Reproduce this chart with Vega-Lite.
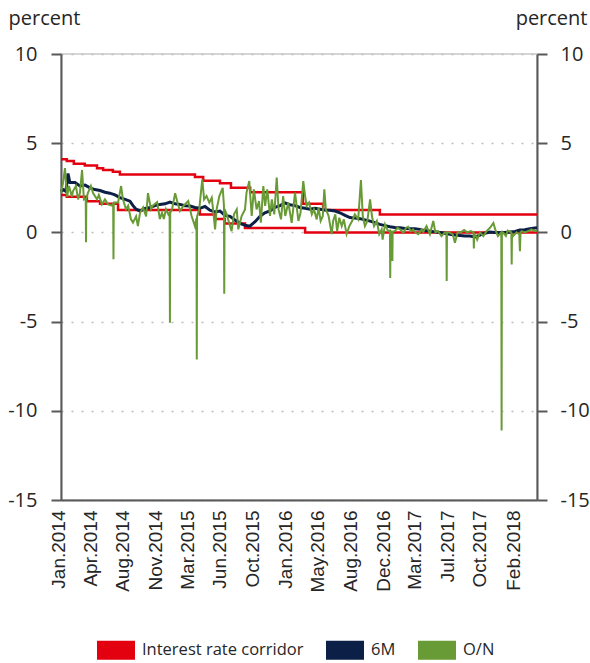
{
  "$schema": "https://vega.github.io/schema/vega-lite/v6.json",
  "width": 476,
  "height": 446,
  "autosize": {"type": "none"},
  "padding": {"left": 61, "top": 54, "right": 53, "bottom": 163},
  "config": {"view": {"stroke": "#c8c8c8", "strokeWidth": 1.5}, "font": "Open Sans"},
  "datasets": {
    "corridor": [
      {"date": "2014-01-01", "rate": 4.1, "bound": "upper"},
      {"date": "2014-01-20", "rate": 4.0, "bound": "upper"},
      {"date": "2014-02-12", "rate": 3.85, "bound": "upper"},
      {"date": "2014-03-20", "rate": 3.75, "bound": "upper"},
      {"date": "2014-04-29", "rate": 3.6, "bound": "upper"},
      {"date": "2014-05-19", "rate": 3.5, "bound": "upper"},
      {"date": "2014-06-20", "rate": 3.4, "bound": "upper"},
      {"date": "2014-07-13", "rate": 3.25, "bound": "upper"},
      {"date": "2015-03-16", "rate": 3.1, "bound": "upper"},
      {"date": "2015-04-12", "rate": 2.9, "bound": "upper"},
      {"date": "2015-06-06", "rate": 2.75, "bound": "upper"},
      {"date": "2015-07-12", "rate": 2.5, "bound": "upper"},
      {"date": "2015-09-13", "rate": 2.25, "bound": "upper"},
      {"date": "2016-03-04", "rate": 1.6, "bound": "upper"},
      {"date": "2016-05-09", "rate": 1.25, "bound": "upper"},
      {"date": "2016-11-11", "rate": 1.0, "bound": "upper"},
      {"date": "2018-04-10", "rate": 1.0, "bound": "upper"},
      {"date": "2014-01-01", "rate": 2.1, "bound": "lower"},
      {"date": "2014-01-20", "rate": 2.0, "bound": "lower"},
      {"date": "2014-03-27", "rate": 1.75, "bound": "lower"},
      {"date": "2014-05-09", "rate": 1.6, "bound": "lower"},
      {"date": "2014-07-07", "rate": 1.25, "bound": "lower"},
      {"date": "2015-04-01", "rate": 1.0, "bound": "lower"},
      {"date": "2015-05-21", "rate": 0.75, "bound": "lower"},
      {"date": "2015-06-22", "rate": 0.5, "bound": "lower"},
      {"date": "2015-08-27", "rate": 0.25, "bound": "lower"},
      {"date": "2016-03-11", "rate": 0.0, "bound": "lower"},
      {"date": "2018-04-10", "rate": 0.0, "bound": "lower"}
    ],
    "m6": [
      {"date": "2014-01-01", "rate": 2.3}, {"date": "2014-01-08", "rate": 2.4}, {"date": "2014-01-17", "rate": 2.3},
      {"date": "2014-01-24", "rate": 3.3}, {"date": "2014-01-30", "rate": 2.8}, {"date": "2014-02-16", "rate": 2.8},
      {"date": "2014-03-04", "rate": 2.6}, {"date": "2014-03-21", "rate": 2.65}, {"date": "2014-04-06", "rate": 2.5},
      {"date": "2014-04-22", "rate": 2.4}, {"date": "2014-05-09", "rate": 2.35}, {"date": "2014-05-25", "rate": 2.25},
      {"date": "2014-06-10", "rate": 2.2}, {"date": "2014-06-27", "rate": 2.1}, {"date": "2014-07-13", "rate": 1.95},
      {"date": "2014-07-30", "rate": 1.85}, {"date": "2014-08-15", "rate": 1.75}, {"date": "2014-08-25", "rate": 1.5},
      {"date": "2014-09-04", "rate": 1.3}, {"date": "2014-09-17", "rate": 1.2}, {"date": "2014-10-03", "rate": 1.35},
      {"date": "2014-10-20", "rate": 1.4}, {"date": "2014-11-05", "rate": 1.5}, {"date": "2014-11-21", "rate": 1.57},
      {"date": "2014-12-08", "rate": 1.6}, {"date": "2014-12-24", "rate": 1.7}, {"date": "2015-01-10", "rate": 1.6},
      {"date": "2015-01-26", "rate": 1.57}, {"date": "2015-02-11", "rate": 1.5}, {"date": "2015-02-28", "rate": 1.48},
      {"date": "2015-03-16", "rate": 1.4}, {"date": "2015-04-01", "rate": 1.35}, {"date": "2015-04-18", "rate": 1.45},
      {"date": "2015-05-04", "rate": 1.25}, {"date": "2015-05-21", "rate": 1.15}, {"date": "2015-06-06", "rate": 1.2},
      {"date": "2015-06-22", "rate": 0.95}, {"date": "2015-07-09", "rate": 0.9}, {"date": "2015-07-25", "rate": 0.7},
      {"date": "2015-08-11", "rate": 0.5}, {"date": "2015-08-27", "rate": 0.4}, {"date": "2015-09-12", "rate": 0.35},
      {"date": "2015-09-29", "rate": 0.6}, {"date": "2015-10-15", "rate": 0.9}, {"date": "2015-10-31", "rate": 1.1},
      {"date": "2015-11-17", "rate": 1.2}, {"date": "2015-12-03", "rate": 1.4}, {"date": "2015-12-20", "rate": 1.5},
      {"date": "2016-01-05", "rate": 1.65}, {"date": "2016-01-21", "rate": 1.55}, {"date": "2016-02-07", "rate": 1.5},
      {"date": "2016-02-23", "rate": 1.4}, {"date": "2016-03-11", "rate": 1.35}, {"date": "2016-03-27", "rate": 1.3},
      {"date": "2016-04-12", "rate": 1.35}, {"date": "2016-04-29", "rate": 1.3}, {"date": "2016-05-15", "rate": 1.25},
      {"date": "2016-05-31", "rate": 1.24}, {"date": "2016-06-17", "rate": 1.2}, {"date": "2016-07-03", "rate": 1.1},
      {"date": "2016-07-20", "rate": 0.95}, {"date": "2016-08-05", "rate": 0.83}, {"date": "2016-08-21", "rate": 0.8},
      {"date": "2016-09-07", "rate": 0.77}, {"date": "2016-09-23", "rate": 0.7}, {"date": "2016-10-10", "rate": 0.63},
      {"date": "2016-10-26", "rate": 0.55}, {"date": "2016-11-11", "rate": 0.45}, {"date": "2016-11-28", "rate": 0.38},
      {"date": "2016-12-14", "rate": 0.32}, {"date": "2016-12-30", "rate": 0.28}, {"date": "2017-01-16", "rate": 0.26},
      {"date": "2017-02-01", "rate": 0.22}, {"date": "2017-02-18", "rate": 0.2}, {"date": "2017-03-06", "rate": 0.2},
      {"date": "2017-03-22", "rate": 0.17}, {"date": "2017-04-08", "rate": 0.1}, {"date": "2017-04-24", "rate": 0.07},
      {"date": "2017-05-11", "rate": 0.03}, {"date": "2017-05-27", "rate": 0.0}, {"date": "2017-06-12", "rate": -0.05},
      {"date": "2017-06-29", "rate": -0.1}, {"date": "2017-07-15", "rate": -0.15}, {"date": "2017-07-31", "rate": -0.17},
      {"date": "2017-08-17", "rate": -0.2}, {"date": "2017-09-02", "rate": -0.2}, {"date": "2017-09-19", "rate": -0.25},
      {"date": "2017-10-05", "rate": -0.15}, {"date": "2017-10-21", "rate": -0.05}, {"date": "2017-11-07", "rate": 0.02},
      {"date": "2017-11-23", "rate": 0.0}, {"date": "2017-12-10", "rate": -0.02}, {"date": "2017-12-26", "rate": 0.0},
      {"date": "2018-01-11", "rate": 0.02}, {"date": "2018-01-28", "rate": 0.05}, {"date": "2018-02-13", "rate": 0.13},
      {"date": "2018-03-01", "rate": 0.15}, {"date": "2018-03-18", "rate": 0.2}, {"date": "2018-04-03", "rate": 0.25},
      {"date": "2018-04-10", "rate": 0.26}
    ],
    "on": [
      {"date": "2014-01-01", "rate": 2.2}, {"date": "2014-01-08", "rate": 2.8}, {"date": "2014-01-14", "rate": 3.6},
      {"date": "2014-01-21", "rate": 2.0}, {"date": "2014-01-27", "rate": 2.6}, {"date": "2014-02-06", "rate": 2.0},
      {"date": "2014-02-09", "rate": 2.3}, {"date": "2014-02-19", "rate": 2.6}, {"date": "2014-02-26", "rate": 1.85},
      {"date": "2014-03-04", "rate": 2.2}, {"date": "2014-03-11", "rate": 3.5}, {"date": "2014-03-17", "rate": 1.85},
      {"date": "2014-03-23", "rate": 1.9}, {"date": "2014-03-24", "rate": -0.55}, {"date": "2014-03-25", "rate": 1.9},
      {"date": "2014-03-30", "rate": 2.2}, {"date": "2014-04-09", "rate": 2.6}, {"date": "2014-04-16", "rate": 2.2},
      {"date": "2014-04-29", "rate": 1.85}, {"date": "2014-05-05", "rate": 2.1}, {"date": "2014-05-15", "rate": 1.57},
      {"date": "2014-05-25", "rate": 1.85}, {"date": "2014-06-04", "rate": 1.57}, {"date": "2014-06-17", "rate": 1.5},
      {"date": "2014-06-21", "rate": 1.6}, {"date": "2014-06-22", "rate": -1.5}, {"date": "2014-06-23", "rate": 1.6},
      {"date": "2014-06-27", "rate": 1.67}, {"date": "2014-07-07", "rate": 1.67}, {"date": "2014-07-17", "rate": 2.6},
      {"date": "2014-07-23", "rate": 1.85}, {"date": "2014-08-02", "rate": 1.3}, {"date": "2014-08-09", "rate": 1.5},
      {"date": "2014-08-18", "rate": 0.75}, {"date": "2014-08-25", "rate": 0.55}, {"date": "2014-09-04", "rate": 0.9},
      {"date": "2014-09-10", "rate": 0.35}, {"date": "2014-09-17", "rate": 1.1}, {"date": "2014-09-27", "rate": 1.4},
      {"date": "2014-10-07", "rate": 0.9}, {"date": "2014-10-13", "rate": 2.2}, {"date": "2014-10-23", "rate": 1.3},
      {"date": "2014-10-29", "rate": 1.5}, {"date": "2014-11-12", "rate": 1.7}, {"date": "2014-11-21", "rate": 0.75},
      {"date": "2014-11-28", "rate": 1.1}, {"date": "2014-12-04", "rate": 0.75}, {"date": "2014-12-11", "rate": 1.3},
      {"date": "2014-12-19", "rate": 1.0}, {"date": "2014-12-23", "rate": 1.1}, {"date": "2014-12-24", "rate": -5.07},
      {"date": "2014-12-25", "rate": 1.1}, {"date": "2014-12-31", "rate": 1.3}, {"date": "2015-01-10", "rate": 2.2},
      {"date": "2015-01-19", "rate": 1.6}, {"date": "2015-01-26", "rate": 1.2}, {"date": "2015-02-06", "rate": 1.48},
      {"date": "2015-02-22", "rate": 1.76}, {"date": "2015-03-05", "rate": 0.92}, {"date": "2015-03-16", "rate": 0.35},
      {"date": "2015-03-21", "rate": 0.8}, {"date": "2015-03-22", "rate": -7.13}, {"date": "2015-03-23", "rate": 0.9},
      {"date": "2015-03-30", "rate": 1.29}, {"date": "2015-04-09", "rate": 2.98}, {"date": "2015-04-15", "rate": 1.85},
      {"date": "2015-04-23", "rate": 2.04}, {"date": "2015-05-02", "rate": 1.67}, {"date": "2015-05-10", "rate": 1.94},
      {"date": "2015-05-15", "rate": 1.2}, {"date": "2015-05-21", "rate": 0.17}, {"date": "2015-05-26", "rate": 1.29},
      {"date": "2015-06-04", "rate": 2.04}, {"date": "2015-06-15", "rate": 2.5}, {"date": "2015-06-19", "rate": 1.5},
      {"date": "2015-06-20", "rate": -3.44}, {"date": "2015-06-21", "rate": 1.3}, {"date": "2015-06-28", "rate": 1.01},
      {"date": "2015-07-06", "rate": 0.54}, {"date": "2015-07-14", "rate": 0.07}, {"date": "2015-07-22", "rate": 1.01},
      {"date": "2015-07-31", "rate": 1.29}, {"date": "2015-08-05", "rate": 0.17}, {"date": "2015-08-16", "rate": 0.92},
      {"date": "2015-08-27", "rate": 1.29}, {"date": "2015-09-01", "rate": 2.23}, {"date": "2015-09-10", "rate": 2.88},
      {"date": "2015-09-18", "rate": 0.92}, {"date": "2015-09-25", "rate": 2.41}, {"date": "2015-10-04", "rate": 1.29},
      {"date": "2015-10-12", "rate": 1.76}, {"date": "2015-10-18", "rate": 0.54}, {"date": "2015-10-26", "rate": 2.6},
      {"date": "2015-11-01", "rate": 1.48}, {"date": "2015-11-08", "rate": 2.41}, {"date": "2015-11-17", "rate": 0.92},
      {"date": "2015-11-23", "rate": 1.85}, {"date": "2015-12-01", "rate": 1.01}, {"date": "2015-12-09", "rate": 3.07},
      {"date": "2015-12-15", "rate": 1.29}, {"date": "2015-12-23", "rate": 0.73}, {"date": "2015-12-30", "rate": 2.04},
      {"date": "2016-01-06", "rate": 0.92}, {"date": "2016-01-16", "rate": 1.67}, {"date": "2016-01-27", "rate": 0.54},
      {"date": "2016-02-07", "rate": 2.23}, {"date": "2016-02-18", "rate": 0.64}, {"date": "2016-02-25", "rate": 1.1},
      {"date": "2016-03-05", "rate": 2.88}, {"date": "2016-03-11", "rate": 2.04}, {"date": "2016-03-16", "rate": 1.48},
      {"date": "2016-03-24", "rate": 1.67}, {"date": "2016-04-02", "rate": 1.01}, {"date": "2016-04-09", "rate": 1.29},
      {"date": "2016-04-18", "rate": 0.73}, {"date": "2016-04-24", "rate": 1.39}, {"date": "2016-05-01", "rate": 0.64},
      {"date": "2016-05-08", "rate": 0.92}, {"date": "2016-05-13", "rate": 2.41}, {"date": "2016-05-18", "rate": 1.29},
      {"date": "2016-05-27", "rate": 0.92}, {"date": "2016-06-06", "rate": -0.1}, {"date": "2016-06-11", "rate": 0.64},
      {"date": "2016-06-18", "rate": 1.01}, {"date": "2016-06-24", "rate": 0.07}, {"date": "2016-07-01", "rate": 0.82},
      {"date": "2016-07-09", "rate": 0.35}, {"date": "2016-07-16", "rate": 0.73}, {"date": "2016-07-25", "rate": -0.1},
      {"date": "2016-08-03", "rate": 0.35}, {"date": "2016-08-12", "rate": 0.64}, {"date": "2016-08-21", "rate": 1.01},
      {"date": "2016-09-01", "rate": 0.73}, {"date": "2016-09-10", "rate": 2.94}, {"date": "2016-09-16", "rate": 0.92},
      {"date": "2016-09-23", "rate": 0.35}, {"date": "2016-10-01", "rate": 0.64}, {"date": "2016-10-10", "rate": 1.85},
      {"date": "2016-10-16", "rate": 0.92}, {"date": "2016-10-23", "rate": 0.35}, {"date": "2016-11-01", "rate": 0.64},
      {"date": "2016-11-09", "rate": -0.1}, {"date": "2016-11-17", "rate": 0.17}, {"date": "2016-11-20", "rate": -0.4},
      {"date": "2016-11-28", "rate": 0.45}, {"date": "2016-12-08", "rate": 0.07}, {"date": "2016-12-14", "rate": 0.1},
      {"date": "2016-12-15", "rate": -2.55}, {"date": "2016-12-16", "rate": 0.1}, {"date": "2016-12-18", "rate": 0.0},
      {"date": "2016-12-22", "rate": -1.6}, {"date": "2016-12-23", "rate": 0.05}, {"date": "2016-12-30", "rate": 0.07},
      {"date": "2017-01-08", "rate": 0.26}, {"date": "2017-01-16", "rate": 0.17}, {"date": "2017-01-27", "rate": -0.02},
      {"date": "2017-02-05", "rate": 0.26}, {"date": "2017-02-12", "rate": 0.32}, {"date": "2017-02-21", "rate": 0.07},
      {"date": "2017-02-28", "rate": 0.17}, {"date": "2017-03-09", "rate": -0.02}, {"date": "2017-03-17", "rate": -0.1},
      {"date": "2017-03-28", "rate": 0.17}, {"date": "2017-04-02", "rate": 0.02}, {"date": "2017-04-13", "rate": 0.36},
      {"date": "2017-04-24", "rate": -0.11}, {"date": "2017-05-05", "rate": 0.64}, {"date": "2017-05-12", "rate": 0.0},
      {"date": "2017-05-21", "rate": 0.07}, {"date": "2017-06-01", "rate": -0.21}, {"date": "2017-06-12", "rate": 0.0},
      {"date": "2017-06-17", "rate": 0.0}, {"date": "2017-06-18", "rate": -2.73}, {"date": "2017-06-19", "rate": 0.0},
      {"date": "2017-06-26", "rate": 0.0}, {"date": "2017-07-08", "rate": -0.11}, {"date": "2017-07-15", "rate": -0.58},
      {"date": "2017-07-24", "rate": 0.02}, {"date": "2017-08-03", "rate": 0.0}, {"date": "2017-08-14", "rate": 0.13},
      {"date": "2017-08-24", "rate": 0.0}, {"date": "2017-09-05", "rate": 0.07}, {"date": "2017-09-14", "rate": 0.0},
      {"date": "2017-09-15", "rate": -0.9}, {"date": "2017-09-16", "rate": -0.1}, {"date": "2017-09-22", "rate": -0.2},
      {"date": "2017-09-26", "rate": -0.4}, {"date": "2017-10-05", "rate": 0.0}, {"date": "2017-10-16", "rate": -0.21},
      {"date": "2017-10-27", "rate": 0.07}, {"date": "2017-11-07", "rate": 0.26}, {"date": "2017-11-18", "rate": 0.53},
      {"date": "2017-11-24", "rate": 0.17}, {"date": "2017-12-03", "rate": -0.21}, {"date": "2017-12-14", "rate": 0.0},
      {"date": "2017-12-15", "rate": -11.1}, {"date": "2017-12-16", "rate": 0.0}, {"date": "2017-12-20", "rate": 0.0},
      {"date": "2017-12-29", "rate": -0.2}, {"date": "2018-01-04", "rate": 0.1}, {"date": "2018-01-16", "rate": 0.0},
      {"date": "2018-01-17", "rate": -1.8}, {"date": "2018-01-18", "rate": -0.1}, {"date": "2018-01-22", "rate": -0.2},
      {"date": "2018-02-02", "rate": 0.0}, {"date": "2018-02-11", "rate": -0.1}, {"date": "2018-02-13", "rate": -1.05},
      {"date": "2018-02-15", "rate": 0.0}, {"date": "2018-02-19", "rate": 0.07}, {"date": "2018-03-01", "rate": 0.0},
      {"date": "2018-03-12", "rate": 0.07}, {"date": "2018-03-23", "rate": 0.17}, {"date": "2018-04-03", "rate": 0.07},
      {"date": "2018-04-10", "rate": 0.1}
    ]
  },
  "encoding": {
    "x": {
      "field": "date",
      "type": "temporal",
      "scale": {"domain": [{"year": 2014, "month": 1, "date": 1}, {"year": 2018, "month": 4, "date": 10}], "nice": false},
      "axis": {
        "title": null,
        "format": "%b.%Y",
        "values": [
          {"year": 2014, "month": 1, "date": 2}, {"year": 2014, "month": 4, "date": 17}, {"year": 2014, "month": 8, "date": 2},
          {"year": 2014, "month": 11, "date": 15}, {"year": 2015, "month": 3, "date": 2}, {"year": 2015, "month": 6, "date": 15},
          {"year": 2015, "month": 10, "date": 2}, {"year": 2016, "month": 1, "date": 15}, {"year": 2016, "month": 5, "date": 2},
          {"year": 2016, "month": 8, "date": 15}, {"year": 2016, "month": 12, "date": 2}, {"year": 2017, "month": 3, "date": 15},
          {"year": 2017, "month": 7, "date": 2}, {"year": 2017, "month": 10, "date": 15}, {"year": 2018, "month": 2, "date": 2}
        ],
        "labelAngle": 270,
        "labelAlign": "right",
        "labelBaseline": "middle",
        "labelPadding": 10,
        "labelOffset": -3,
        "ticks": false,
        "grid": false,
        "domainColor": "#595959",
        "domainWidth": 2,
        "labelFont": "Liberation Sans",
        "labelFontSize": 19,
        "labelColor": "#262626",
        "labelOverlap": false,
        "labelFlush": false,
        "labelBound": false
      }
    }
  },
  "layer": [
    {
      "data": {"name": "corridor"},
      "mark": {"type": "line", "interpolate": "step-after", "strokeWidth": 2.5},
      "encoding": {
        "y": {
          "field": "rate", "type": "quantitative",
          "scale": {"domain": [-15, 10], "nice": false, "zero": false},
          "axis": {
            "orient": "left", "values": [10, 5, 0, -5, -10, -15],
            "labelExpr": "'' + datum.value",
            "title": "percent", "titleAngle": 0, "titleAlign": "left", "titleBaseline": "alphabetic",
            "titleX": -53, "titleY": -30, "titleFont": "Open Sans", "titleFontSize": 20, "titleFontWeight": "normal", "titleColor": "#262626",
            "labelFont": "Open Sans", "labelFontSize": 20, "labelColor": "#262626", "labelPadding": 14,
            "tickSize": 10, "tickColor": "#595959", "tickWidth": 2,
            "domainColor": "#595959", "domainWidth": 2,
            "grid": true, "gridDash": [2, 8], "gridColor": "#bdbdbd", "gridWidth": 1.5
          }
        },
        "detail": {"field": "bound", "type": "nominal"},
        "color": {
          "datum": "Interest rate corridor", "type": "nominal",
          "scale": {"domain": ["Interest rate corridor", "6M", "O/N"], "range": ["#e3000f", "#0c1f47", "#689a35"]},
          "legend": {
            "orient": "none", "legendX": 36, "legendY": 577, "direction": "horizontal", "title": null,
            "symbolType": "M-1,-0.5H1V0.5H-1Z", "symbolSize": 1444, "symbolStrokeWidth": 0,
            "labelFont": "Open Sans", "labelFontSize": 16.5, "labelLimit": 400, "labelColor": "#262626", "labelOffset": 7, "columnPadding": 22,
            "encode": {"symbols": {"update": {"fill": {"scale": "color", "field": "value"}, "fillOpacity": {"value": 1}, "stroke": {"value": "transparent"}}}}
          }
        }
      }
    },
    {
      "data": {"name": "m6"},
      "mark": {"type": "line", "strokeWidth": 3},
      "encoding": {
        "y": {
          "field": "rate", "type": "quantitative",
          "axis": {
            "orient": "right", "values": [10, 5, 0, -5, -10, -15],
            "labelExpr": "'' + datum.value",
            "title": "percent", "titleAngle": 0, "titleAlign": "right", "titleBaseline": "alphabetic",
            "titleX": 50, "titleY": -30, "titleFont": "Open Sans", "titleFontSize": 20, "titleFontWeight": "normal", "titleColor": "#262626",
            "labelFont": "Open Sans", "labelFontSize": 20, "labelColor": "#262626", "labelPadding": 13,
            "tickSize": 10, "tickColor": "#595959", "tickWidth": 2,
            "domainColor": "#595959", "domainWidth": 2, "grid": false
          }
        },
        "color": {"datum": "6M", "type": "nominal"}
      }
    },
    {
      "data": {"name": "on"},
      "mark": {"type": "line", "strokeWidth": 2},
      "encoding": {
        "y": {"field": "rate", "type": "quantitative", "axis": null},
        "color": {"datum": "O/N", "type": "nominal"}
      }
    }
  ],
  "resolve": {"axis": {"y": "independent"}}
}
